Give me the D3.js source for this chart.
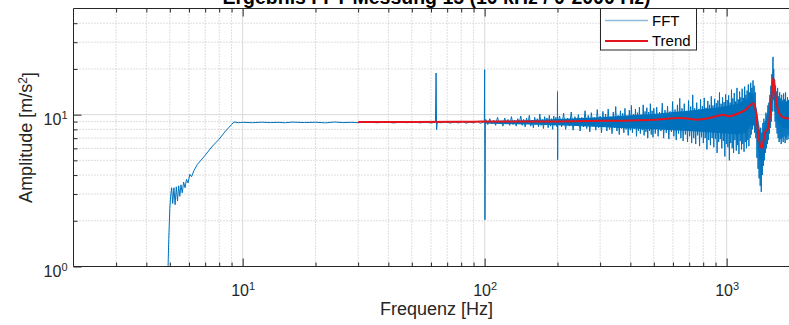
<!DOCTYPE html>
<html>
<head>
<meta charset="utf-8">
<script src="https://cdn.jsdelivr.net/npm/d3@7"></script>
<style>
  body { margin: 0; background: #fff; }
  svg { display: block; font-family: "Liberation Sans", Arial, sans-serif; }
</style>
</head>
<body>
<div id="chart"></div>
<script>
// values
const titleText = "Ergebnis FFT Messung 15 (10 kHz / 0-2000 Hz)";
const xMajor = [10, 100, 1000];
const xMinor = [3, 4, 5, 6, 7, 8, 9, 20, 30, 40, 50, 60, 70, 80, 90, 200, 300, 400, 500, 600, 700, 800, 900];
const yMajor = [1, 10];
const yMinor = [2, 3, 4, 5, 6, 7, 8, 9, 20, 30, 40];

// FFT: start-up ramp
const fftRise = [
  [4.88, 0.6], [4.95, 1.5], [5.0, 2.4], [5.05, 3.0], [5.09, 3.3], [5.14, 2.6], [5.2, 3.3], [5.26, 2.55],
  [5.32, 3.35], [5.38, 2.7], [5.44, 3.4], [5.5, 2.9], [5.56, 3.45], [5.63, 3.05], [5.7, 3.6], [5.78, 3.3],
  [5.86, 3.75], [5.95, 3.55], [6.05, 4.05], [6.15, 3.9], [6.3, 4.3], [6.5, 4.7], [7.0, 5.4], [7.5, 6.2],
  [8.0, 6.9], [8.5, 7.8], [9.0, 8.6], [9.2, 8.95]
];
// FFT: flat part incl. the 63 Hz and 100 Hz lines
const fftFlat = [
  [9.6, 8.85], [10, 8.9], [11, 8.85], [12, 8.92], [13, 8.86], [14, 8.9], [15, 8.84], [16, 8.93],
  [18, 8.87], [20, 8.91], [22, 8.83], [24, 8.94], [26, 8.86], [28, 8.9], [30, 8.85], [33, 8.93],
  [36, 8.84], [39, 8.95], [42, 8.82], [45, 8.92], [48, 8.85], [51, 8.96], [54, 8.83], [57, 8.93],
  [60, 8.81], [62.6, 8.92], [63, 18.8], [63.3, 7.96], [63.7, 8.9], [66, 8.84], [69, 8.97], [72, 8.8],
  [75, 8.95], [78, 8.82], [81, 9.0], [84, 8.78], [87, 8.97], [90, 8.8], [93, 9.05], [96, 8.76],
  [99.7, 9.0], [100, 19.8], [100.3, 2.03], [100.7, 9.1]
];
// FFT: noisy part above 100 Hz
const fftNoise = [
  [101, 9.3], [103, 8.6], [105, 9.4], [107, 8.7], [109, 9.2], [111, 8.5], [113, 9.6], [115, 8.7],
  [117, 9.1], [119, 8.4], [121, 9.5], [123, 8.8], [125, 9.3], [127, 8.5], [129, 9.7], [131, 8.6],
  [133, 9.2], [135, 8.4], [137, 9.4], [139, 8.8], [141, 9.8], [143, 8.5], [145, 9.3], [147, 8.3],
  [149, 9.5], [151, 8.7], [153, 9.9], [155, 8.4], [157, 9.2], [159, 8.2], [161, 9.6], [163, 8.6],
  [165, 9.4], [167, 8.3], [169, 10.1], [171, 8.5], [173, 9.3], [175, 8.1], [177, 9.7], [179, 8.6],
  [181, 9.5], [183, 8.2], [185, 9.9], [187, 8.4], [189, 9.4], [191, 8.0], [193, 9.8], [195, 8.5],
  [197, 9.6], [199, 8.3], [199.7, 9.0], [200, 14.2], [200.3, 5.05], [200.7, 8.8],
  [204, 9.8], [208, 8.3], [212, 10.2], [216, 8.0], [220, 9.5], [224, 8.4], [228, 10.4], [232, 7.9],
  [236, 9.7], [240, 8.5], [244, 10.0], [248, 7.8], [252, 9.6], [256, 8.3], [260, 10.6], [264, 8.1],
  [268, 9.9], [272, 7.7], [276, 10.3], [280, 8.4], [284, 9.6], [288, 7.9], [292, 10.8], [296, 8.2],
  [300, 9.8], [304, 7.6], [308, 10.5], [312, 8.3], [316, 10.1], [320, 7.8], [324, 10.9], [328, 8.0],
  [332, 9.7], [336, 7.5], [340, 10.4], [344, 8.2], [348, 11.3], [352, 7.8], [356, 9.9], [360, 7.4],
  [364, 10.6], [368, 8.1], [372, 10.2], [376, 7.6], [380, 11.0], [384, 8.0], [388, 9.8], [392, 7.3],
  [396, 10.7], [400, 7.9], [404, 11.5], [408, 7.6], [412, 10.1], [416, 8.1], [420, 10.9], [424, 7.2],
  [428, 10.3], [432, 7.8], [436, 11.2], [440, 7.5], [444, 10.0], [448, 7.9], [452, 11.6], [456, 7.3],
  [460, 10.5], [464, 7.7], [468, 11.1], [472, 7.0], [476, 10.4], [480, 7.8], [484, 11.8], [488, 7.4],
  [492, 10.6], [496, 7.1], [500, 11.0],
  [507, 7.5], [514, 11.2], [521, 7.2], [528, 10.4], [535, 7.8], [542, 11.9], [549, 7.0], [556, 10.7],
  [563, 7.6], [570, 11.4], [577, 6.9], [584, 10.5], [591, 7.7], [598, 12.2], [605, 7.2], [612, 10.8],
  [619, 6.8], [626, 11.6], [633, 7.5], [640, 12.8], [647, 7.0], [654, 11.0], [661, 6.7], [668, 11.8],
  [675, 7.4], [682, 10.6], [689, 6.6], [696, 12.4], [703, 7.2], [710, 11.3], [717, 6.5], [724, 13.5],
  [731, 7.0], [738, 11.0], [745, 6.4], [752, 12.0], [759, 7.3], [766, 10.9], [773, 6.2], [780, 12.6],
  [787, 7.1], [794, 11.4], [801, 6.5], [808, 12.9], [815, 7.0], [822, 11.1], [829, 5.9], [836, 12.3],
  [843, 6.8], [850, 11.6], [857, 6.3], [864, 13.2], [871, 7.0], [878, 11.5], [885, 6.1], [892, 12.7],
  [899, 6.9], [906, 11.9], [913, 5.6], [920, 12.4], [927, 6.6], [934, 14.0], [941, 6.9], [948, 11.8],
  [955, 6.0], [962, 13.0], [969, 6.7], [976, 12.1], [983, 5.3], [990, 13.6], [997, 6.4],
  [1005, 12.5], [1012, 6.1], [1019, 13.4], [1026, 5.0], [1033, 12.0], [1040, 6.5], [1047, 14.6], [1054, 6.0],
  [1061, 12.8], [1068, 5.6], [1075, 13.9], [1082, 6.8], [1089, 12.2], [1096, 5.8], [1103, 15.0], [1110, 6.3],
  [1117, 12.6], [1124, 5.5], [1131, 14.2], [1138, 6.7], [1145, 13.0], [1152, 5.9], [1159, 14.8], [1166, 6.4],
  [1173, 12.9], [1180, 5.7], [1187, 15.3], [1194, 6.6], [1201, 13.5], [1208, 6.0], [1215, 14.4], [1222, 6.8],
  [1229, 15.8], [1236, 6.2], [1243, 14.0], [1250, 7.0], [1257, 16.2], [1264, 7.4], [1271, 15.0], [1278, 8.0],
  [1285, 16.8], [1292, 8.5], [1299, 15.5], [1306, 7.6], [1313, 14.0], [1320, 7.0], [1327, 10.8], [1334, 5.2],
  [1341, 9.5], [1348, 4.4], [1355, 8.6], [1362, 3.8], [1369, 7.9], [1376, 3.4], [1383, 8.2], [1390, 3.1],
  [1397, 7.5], [1404, 4.0], [1411, 8.8], [1418, 4.6], [1425, 9.4], [1432, 5.0], [1439, 9.0], [1446, 5.6],
  [1453, 10.3], [1460, 6.0], [1467, 10.0], [1474, 6.4], [1481, 11.5], [1488, 6.8], [1495, 12.0], [1502, 7.5],
  [1509, 13.5], [1516, 8.2], [1523, 15.5], [1530, 9.0], [1537, 18.5], [1544, 10.5], [1551, 22.0], [1555, 24.0],
  [1559, 12.5], [1565, 20.0], [1572, 10.5], [1579, 17.0], [1586, 9.0], [1593, 15.5], [1600, 8.2], [1608, 14.2],
  [1616, 7.5], [1624, 15.0], [1632, 7.0], [1640, 13.2], [1648, 6.6], [1656, 14.0], [1664, 6.9], [1672, 12.8],
  [1680, 6.4], [1688, 13.5], [1696, 7.0], [1704, 12.4], [1712, 6.6], [1720, 13.8], [1728, 7.2], [1736, 12.6],
  [1744, 6.5], [1752, 14.0], [1760, 7.0], [1768, 12.2], [1776, 6.8], [1784, 13.0], [1792, 7.3], [1800, 12.5],
  [1810, 6.9], [1820, 13.4], [1830, 7.1], [1840, 12.0], [1850, 6.7], [1860, 13.2], [1870, 7.2], [1880, 12.3],
  [1890, 6.8], [1900, 13.0], [1910, 7.0], [1920, 12.1], [1930, 6.9], [1940, 12.8], [1950, 7.2], [1960, 12.0],
  [1970, 7.0], [1980, 12.5], [1990, 7.1], [2000, 11.8]
];
// dense core of the FFT band: [f, low, high]
const fftCore = [
  [100, 8.75, 9.05], [150, 8.6, 9.2], [200, 8.5, 9.35], [300, 8.3, 9.6], [400, 8.1, 9.9],
  [500, 8.0, 10.1], [600, 7.9, 10.4], [700, 7.8, 10.6], [800, 7.7, 10.9], [900, 7.6, 11.1],
  [1000, 7.5, 11.4], [1100, 7.4, 11.8], [1200, 7.6, 12.5], [1280, 8.8, 14.0], [1330, 7.5, 11.0],
  [1370, 5.0, 8.0], [1400, 5.0, 7.5], [1450, 6.5, 9.0], [1500, 8.5, 12.0], [1540, 11.5, 17.0],
  [1560, 13.0, 19.0], [1600, 9.5, 13.0], [1700, 8.2, 11.6], [1800, 8.1, 11.0], [2000, 8.0, 10.8]
];
// Trend
const trend = [
  [30, 8.95], [50, 8.95], [80, 8.97], [100, 9.0], [150, 9.0], [200, 9.02], [300, 9.1], [400, 9.15],
  [500, 9.25], [641, 9.5], [700, 9.4], [751, 9.27], [850, 9.5], [968, 10.0], [1015, 9.75], [1100, 10.1],
  [1200, 10.8], [1289, 11.9], [1320, 10.5], [1350, 7.5], [1396, 6.0], [1440, 7.6], [1486, 8.2],
  [1520, 11.0], [1559, 17.5], [1600, 12.5], [1660, 10.0], [1743, 9.5], [1850, 9.4], [2000, 9.3]
];

const width = 789, height = 325;
const pLeft = 73.5, pRight = 799.5, pTop = 8.5, pBottom = 266.5;
const fftColor = "#0072bd", trendColor = "#e3141c", axisColor = "#262626";

const svg = d3.select("#chart").append("svg")
  .attr("width", width)
  .attr("height", height);

const x = d3.scaleLog().domain([2, 2000]).range([pLeft, pRight]);
const y = d3.scaleLog().domain([1, 50]).range([pBottom, pTop]);

// grid
const grid = svg.append("g");
grid.selectAll(".xminor").data(xMinor).enter().append("line")
  .attr("x1", d => x(d)).attr("x2", d => x(d)).attr("y1", pTop).attr("y2", pBottom)
  .attr("stroke", "#bdbdbd").attr("stroke-dasharray", "1,2");
grid.selectAll(".yminor").data(yMinor).enter().append("line")
  .attr("x1", pLeft).attr("x2", pRight).attr("y1", d => y(d)).attr("y2", d => y(d))
  .attr("stroke", "#bdbdbd").attr("stroke-dasharray", "1,2");
grid.selectAll(".xmajor").data(xMajor).enter().append("line")
  .attr("x1", d => x(d)).attr("x2", d => x(d)).attr("y1", pTop).attr("y2", pBottom)
  .attr("stroke", "#dadada");
grid.selectAll(".ymajor").data(yMajor).enter().append("line")
  .attr("x1", pLeft).attr("x2", pRight).attr("y1", d => y(d)).attr("y2", d => y(d))
  .attr("stroke", "#dadada");

svg.append("clipPath").attr("id", "plot")
  .append("rect").attr("x", pLeft).attr("y", pTop).attr("width", pRight - pLeft).attr("height", pBottom - pTop);

const plot = svg.append("g").attr("clip-path", "url(#plot)");

plot.append("path")
  .datum(fftCore)
  .attr("fill", fftColor)
  .attr("d", d3.area().x(d => x(d[0])).y0(d => y(d[1])).y1(d => y(d[2])));

const fft = fftRise.concat(fftFlat, fftNoise);
const line = d3.line().x(d => x(d[0])).y(d => y(d[1]));

plot.append("path")
  .datum(fft)
  .attr("fill", "none")
  .attr("stroke", fftColor)
  .attr("stroke-width", 1)
  .attr("stroke-linejoin", "round")
  .attr("d", line);

plot.append("path")
  .datum(trend)
  .attr("fill", "none")
  .attr("stroke", trendColor)
  .attr("stroke-width", 2)
  .attr("stroke-linejoin", "round")
  .attr("d", d3.line().x(d => x(d[0])).y(d => y(d[1])).curve(d3.curveMonotoneX));

// axes (ticks point inward)
function styleAxis(g) {
  g.select(".domain").remove();
  g.selectAll(".tick line").attr("stroke", axisColor);
}
function powerLabels(g) {
  g.selectAll(".tick text").each(function (d) {
    const t = d3.select(this).text("");
    t.append("tspan").text("10");
    t.append("tspan").attr("dy", "-0.5em").attr("font-size", "11px").text(Math.round(Math.log10(d)));
  });
}

svg.append("g").attr("transform", `translate(0,${pBottom})`)
  .call(d3.axisBottom(x).tickValues(xMinor).tickSize(-4).tickFormat(""))
  .call(styleAxis);
svg.append("g").attr("transform", `translate(0,${pBottom})`)
  .call(d3.axisBottom(x).tickValues(xMajor).tickSize(-8).tickFormat(d => d))
  .call(styleAxis)
  .call(powerLabels)
  .call(g => g.selectAll(".tick text").attr("y", 29).attr("dy", 0)
    .attr("font-size", "16px").attr("fill", axisColor));

svg.append("g").attr("transform", `translate(0,${pTop})`)
  .call(d3.axisTop(x).tickValues(xMinor).tickSize(-4).tickFormat(""))
  .call(styleAxis);
svg.append("g").attr("transform", `translate(0,${pTop})`)
  .call(d3.axisTop(x).tickValues(xMajor).tickSize(-8).tickFormat(""))
  .call(styleAxis);

svg.append("g").attr("transform", `translate(${pLeft},0)`)
  .call(d3.axisLeft(y).tickValues(yMinor).tickSize(-4).tickFormat(""))
  .call(styleAxis);
svg.append("g").attr("transform", `translate(${pLeft},0)`)
  .call(d3.axisLeft(y).tickValues(yMajor).tickSize(-8).tickPadding(6).tickFormat(d => d))
  .call(styleAxis)
  .call(powerLabels)
  .call(g => g.selectAll(".tick text").attr("dy", "0.6em")
    .attr("font-size", "16px").attr("fill", axisColor));

svg.selectAll(".tick text").attr("font-family", "Liberation Sans, Arial, sans-serif");

// box
svg.append("path")
  .attr("d", `M${pLeft},${pTop}H${pRight}M${pLeft},${pTop}V${pBottom}H${pRight}`)
  .attr("fill", "none")
  .attr("stroke", axisColor);

// title (cut at the top edge, as in the original export) and axis labels
svg.append("text")
  .attr("x", (pLeft + pRight) / 2).attr("y", 3.5)
  .attr("text-anchor", "middle")
  .attr("font-size", "19.5px").attr("font-weight", "bold").attr("fill", "#000")
  .text(titleText);

svg.append("text")
  .attr("x", (pLeft + pRight) / 2).attr("y", 315)
  .attr("text-anchor", "middle")
  .attr("font-size", "18px").attr("fill", axisColor)
  .text("Frequenz [Hz]");

const yLab = svg.append("text")
  .attr("transform", `translate(32,${(pTop + pBottom) / 2}) rotate(-90)`)
  .attr("text-anchor", "middle")
  .attr("font-size", "18px").attr("fill", axisColor);
yLab.append("tspan").text("Amplitude [m/s");
yLab.append("tspan").attr("dy", "-0.45em").attr("font-size", "12px").text("2");
yLab.append("tspan").attr("dy", "0.45em").text("]");

// legend
const legend = svg.append("g");
legend.append("rect")
  .attr("x", 600.5).attr("y", pTop).attr("width", 96).attr("height", 41.5)
  .attr("fill", "#fff").attr("stroke", axisColor);
const legendItems = [
  { label: "FFT", color: "#8fbcdc", w: 1.5 },
  { label: "Trend", color: trendColor, w: 2 }
];
legendItems.forEach((d, i) => {
  const ly = 20.5 + i * 20.5;
  legend.append("line")
    .attr("x1", 605).attr("x2", 648).attr("y1", ly).attr("y2", ly)
    .attr("stroke", d.color).attr("stroke-width", d.w);
  legend.append("text")
    .attr("x", 652).attr("y", ly).attr("dy", "0.35em")
    .attr("font-size", "15px").attr("fill", "#000")
    .text(d.label);
});
</script>
</body>
</html>
